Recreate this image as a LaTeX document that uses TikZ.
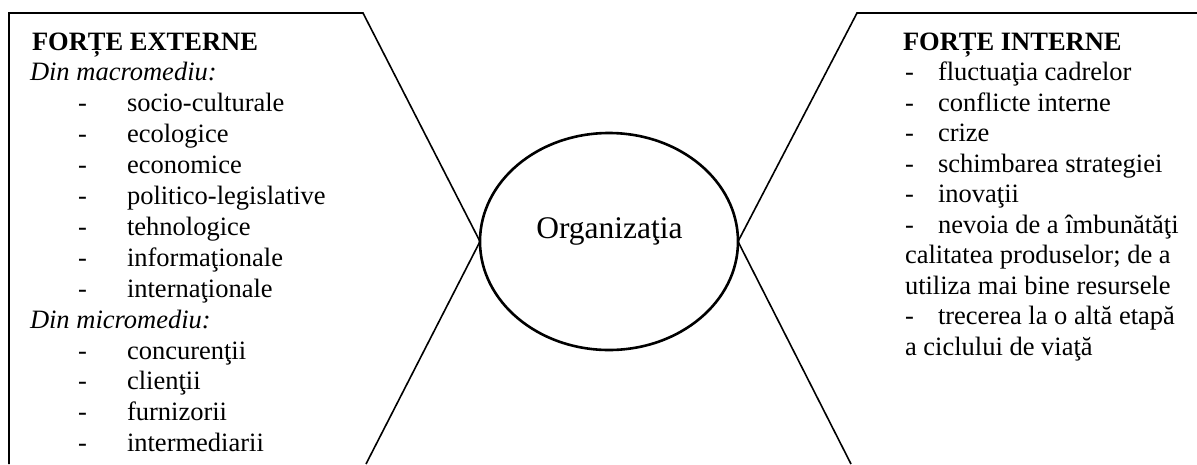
\documentclass[tikz,border=0pt]{standalone}
\usepackage{fontspec}
\setmainfont{Liberation Serif}
\usetikzlibrary{shapes.geometric}
\begin{document}
\begin{tikzpicture}[x=1pt,y=1pt,
  txt/.style={anchor=base west,inner sep=0pt,outer sep=0pt,font=\fontsize{26.5}{30}\selectfont},
  frame/.style={line width=1.6pt,line join=miter},
  org/.style={ellipse,draw,line width=2.6pt,minimum width=258pt,minimum height=217pt,inner sep=0pt,outer sep=0pt}]
\useasboundingbox (0,0) rectangle (1197,-464);
% central ellipse
\node[org] (o) at (609,-241.5) {};
\node[anchor=base,inner sep=0pt,font=\fontsize{31.5}{36}\selectfont] (ot) at (609.5,-238) {Organizaţia};
% frames
\coordinate (lb) at (9,-464);
\coordinate (lt) at (9,-13);
\coordinate (lc) at (363,-13);
\coordinate (lm) at (o.west);
\coordinate (ld) at (366,-464);
\coordinate (rr) at (1197,-13);
\coordinate (rc) at (857,-13);
\coordinate (rm) at (o.east);
\coordinate (rd) at (851,-464);
\draw[frame] (lb) -- (lt) -- (lc) -- (lm) -- (ld);
\draw[frame] (rr) -- (rc) -- (rm) -- (rd);
% left text
\def\p{30.9}
\node[txt,font=\fontsize{26.5}{30}\selectfont\bfseries] (l1) at (32,-50) {FORȚE EXTERNE};
\node[txt,font=\fontsize{26.5}{30}\selectfont\itshape] (l2) at (30,-50-\p) {Din macromediu:};
\foreach \t [count=\i from 3] in {socio-culturale,ecologice,economice,politico-legislative,tehnologice,informaţionale,internaţionale}{
  \node[txt] (ld\i) at (78,-50-\p*\i+\p) {-};
  \node[txt] (l\i) at (127,-50-\p*\i+\p) {\t};
}
\node[txt,font=\fontsize{26.5}{30}\selectfont\itshape] (l10) at (30,-50-9*\p) {Din micromediu:};
\foreach \t [count=\i from 11] in {concurenţii,clienţii,furnizorii,intermediarii}{
  \node[txt] (ld\i) at (78,-50-\p*\i+\p) {-};
  \node[txt] (l\i) at (127,-50-\p*\i+\p) {\t};
}
% right text
\def\q{30.5}
\node[txt,font=\fontsize{26.5}{30}\selectfont\bfseries] (r1) at (903,-50) {FORȚE INTERNE};
\foreach \t [count=\i from 2] in {fluctuaţia cadrelor,conflicte interne,crize,schimbarea strategiei,inovaţii,nevoia de a îmbunătăţi}{
  \node[txt] (rd\i) at (905,-50-\q*\i+\q) {-};
  \node[txt] (r\i) at (938,-50-\q*\i+\q) {\t};
}
\node[txt] (r8) at (905,-50-7*\q) {calitatea produselor; de a};
\node[txt] (r9) at (905,-50-8*\q) {utiliza mai bine resursele};
\node[txt] (rd10) at (905,-50-9*\q) {-};
\node[txt] (r10) at (938,-50-9*\q) {trecerea la o altă etapă};
\node[txt] (r11) at (905,-50-10*\q) {a ciclului de viaţă};
\end{tikzpicture}
\end{document}
